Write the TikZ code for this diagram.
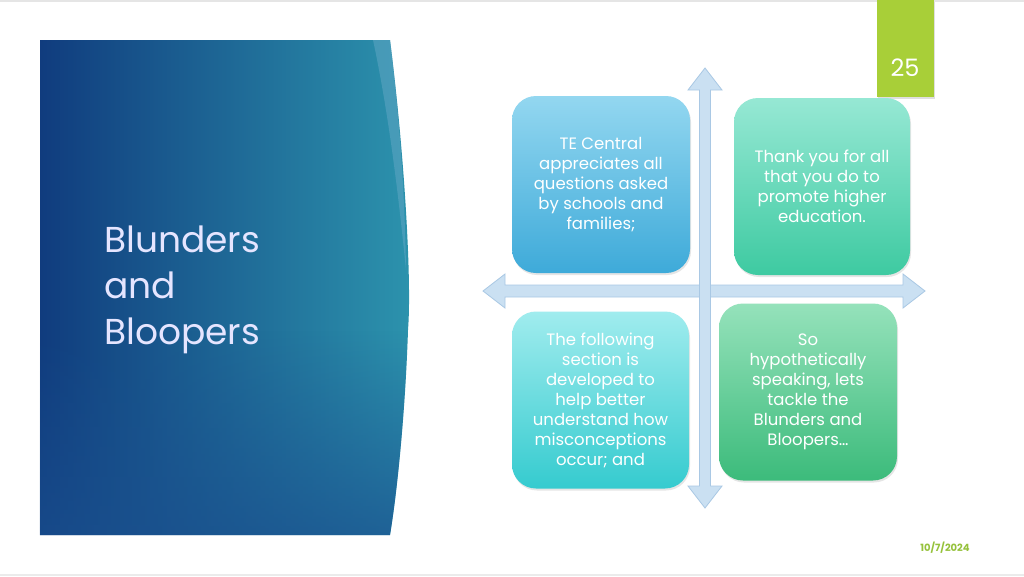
\documentclass[tikz,border=0pt]{standalone}
\usepackage{fontspec}
\setmainfont{Poppins}
\usetikzlibrary{shadows,fadings}
\definecolor{navy}{HTML}{103C7E}
\definecolor{teal}{HTML}{2C93AD}
\definecolor{botblue}{HTML}{1A4F8E}
\definecolor{bandc}{HTML}{5FA6C4}
\definecolor{arrowfill}{HTML}{CAE0F2}
\definecolor{arrowline}{HTML}{A9C8E4}
\definecolor{lime}{HTML}{A8CF38}
\definecolor{datec}{HTML}{96C23C}
\definecolor{tlTop}{HTML}{93D7F0}\definecolor{tlBot}{HTML}{3EAAD9}
\definecolor{trTop}{HTML}{96E8D4}\definecolor{trBot}{HTML}{3ECAA1}
\definecolor{blTop}{HTML}{A0ECEE}\definecolor{blBot}{HTML}{35CBCF}
\definecolor{brTop}{HTML}{95E2BB}\definecolor{brBot}{HTML}{3CBB7B}
\tikzset{
  quad/.style={rounded corners=24pt, minimum width=#1, minimum height=177pt,
    align=center, text=white, font=\fontsize{16.5}{20}\selectfont,
    drop shadow={shadow xshift=1pt, shadow yshift=-2pt, opacity=0.2}},
  arrowshape/.style={fill=arrowfill, draw=arrowline, line width=0.8pt, line join=miter},
}
\begin{document}
\begin{tikzpicture}[x=1pt,y=-1pt]
\useasboundingbox (0,0) rectangle (1024,576);
\fill[white] (0,0) rectangle (1024,576);
\draw[black!10, line width=1.2pt] (0,1) -- (1024,1);
\draw[black!8, line width=1.2pt] (0,575) -- (1024,575);
% blue panel
\shade[left color=navy, right color=teal, shading angle=90]
  (40,40) -- (390,40) .. controls (404,150) and (412,280) .. (408,330)
  .. controls (405,420) and (396,500) .. (390,535) -- (40,535) -- cycle;
\fill[botblue, path fading=north, opacity=0.7]
  (40,330) -- (408,330) .. controls (405,420) and (396,500) .. (390,535) -- (40,535) -- cycle;
\fill[bandc, opacity=0.55]
  (373,40) -- (390,40) .. controls (400,120) and (405,200) .. (406,270)
  .. controls (398,190) and (388,110) .. (373,40) -- cycle;
\node[anchor=north west, align=left, text=white!90!blue, font=\fontsize{36}{46}\selectfont, inner sep=0pt]
  (title) at (104,226) {Blunders\\and\\Bloopers};
% page number
\node[fill=lime, minimum width=57pt, minimum height=97pt, anchor=north west, inner sep=0pt,
  drop shadow={shadow xshift=1pt, shadow yshift=-1.5pt, opacity=0.25}] (pg) at (877,0) {};
\node[text=white, font=\fontsize{24}{24}\selectfont] (pgnum) at (905,68) {25};
\node[text=datec, font=\fontsize{10}{10}\selectfont\bfseries] (date) at (945,548) {10/7/2024};
% cross arrows
\coordinate (hc) at (704,291);
\filldraw[arrowshape] (483,291) -- (505,274) -- (505,285) -- (903,285) -- (903,274) -- (925,291)
  -- (903,308) -- (903,297) -- (505,297) -- (505,308) -- cycle;
\filldraw[arrowshape] (705,68) -- (722,90) -- (710.5,90) -- (710.5,486) -- (722,486) -- (705,508)
  -- (688,486) -- (699.5,486) -- (699.5,90) -- (688,90) -- cycle;
% quadrant boxes
\node[quad=178pt, top color=tlTop, bottom color=tlBot] (tl) at (601,184.5)
  {TE Central\\appreciates all\\questions asked\\by schools and\\families;};
\node[quad=176pt, top color=trTop, bottom color=trBot] (tr) at (822,186.5)
  {Thank you for all\\that you do to\\promote higher\\education.};
\node[quad=177pt, top color=blTop, bottom color=blBot] (bl) at (600.5,400)
  {The following\\section is\\developed to\\help better\\understand how\\misconceptions\\occur; and};
\node[quad=178pt, top color=brTop, bottom color=brBot] (br) at (808,392)
  {So\\hypothetically\\speaking, lets\\tackle the\\Blunders and\\Bloopers…};
\end{tikzpicture}
\end{document}
